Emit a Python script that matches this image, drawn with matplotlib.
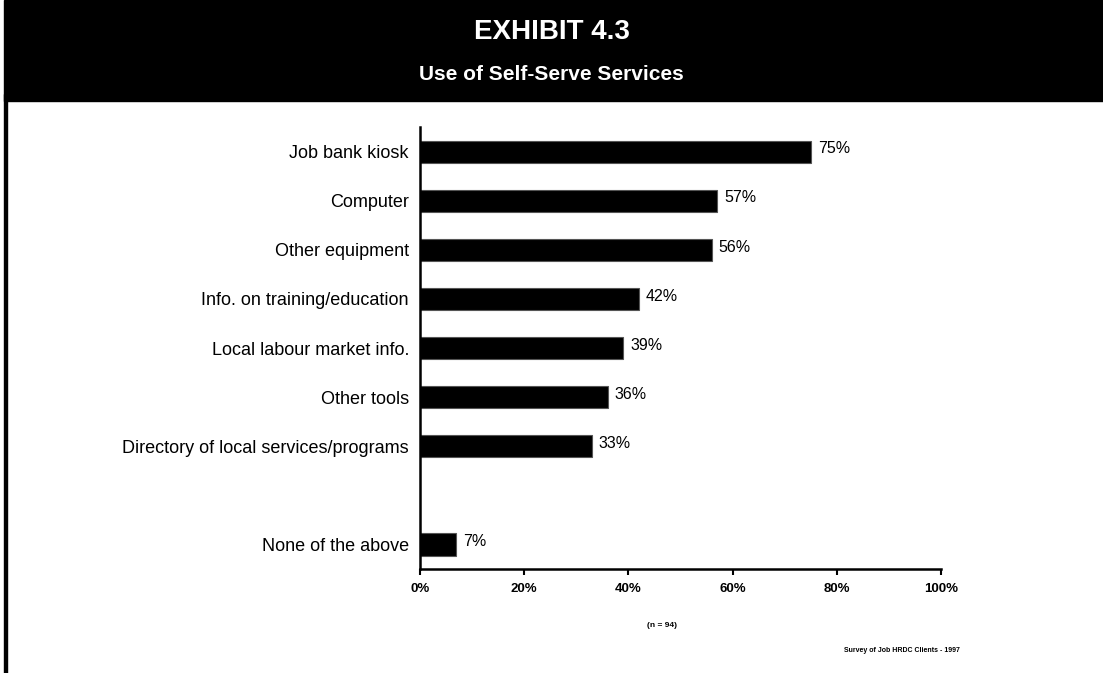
import numpy as np
from matplotlib import pyplot as plt
from matplotlib.patches import Rectangle

# Chart data
categories = ["Job bank kiosk", "Computer", "Other equipment",
              "Info. on training/education", "Local labour market info.",
              "Other tools", "Directory of local services/programs",
              "None of the above"]
values = [75, 57, 56, 42, 39, 36, 33, 7]
tick_values = [0, 20, 40, 60, 80, 100]
tick_labels = ["0%", "20%", "40%", "60%", "80%", "100%"]

plt.rcParams['font.family'] = ['Liberation Sans', 'DejaVu Sans']

fig = plt.figure(figsize=(11.03, 6.73), dpi=100)

# Black header band and left border line
fig.patches.append(Rectangle((4 / 1103, 0.85), 1 - 4 / 1103, 0.15,
                             transform=fig.transFigure, color="black", zorder=0))
fig.patches.append(Rectangle((4 / 1103, 0), 3 / 1103, 0.86,
                             transform=fig.transFigure, color="black", zorder=0))
fig.text(0.5, 0.953, "EXHIBIT 4.3", color="white", fontsize=20,
         fontweight="bold", ha="center", va="center")
fig.text(0.5, 0.889, "Use of Self-Serve Services", color="white", fontsize=15,
         fontweight="bold", ha="center", va="center")

ax = fig.add_axes([0.3808, 0.1545, 0.4724, 0.6568])

# "None of the above" sits one slot lower than the rest
ypos = np.arange(len(categories), dtype=float)
ypos[-1] += 1

ax.barh(ypos, values, height=0.45, color="black", edgecolor="#555555", linewidth=0.8)
for y, v in zip(ypos, values):
    ax.annotate("%d%%" % v, (v, y), xytext=(5, 2), textcoords="offset points",
                ha="left", va="center", fontsize=11.5)

ax.set_xlim(0, 100)
ax.set_ylim(ypos[-1] + 0.5, -0.5)
ax.set_yticks(ypos)
ax.set_yticklabels(categories, fontsize=13)
ax.set_xticks(tick_values)
ax.set_xticklabels(tick_labels, fontsize=9.5, fontweight="bold")
ax.tick_params(axis="y", length=0, pad=8)
ax.tick_params(axis="x", length=4, width=1.5, pad=6)

for side in ["top", "right"]:
    ax.spines[side].set_visible(False)
for side in ["left", "bottom"]:
    ax.spines[side].set_linewidth(1.8)

fig.text(0.6, 0.071, "(n = 94)", fontsize=6, fontweight="bold", ha="center", va="center")
fig.text(0.87, 0.034, "Survey of Job HRDC Clients - 1997", fontsize=5,
         fontweight="bold", ha="right", va="center")

fig.savefig("out.png", dpi=100)
